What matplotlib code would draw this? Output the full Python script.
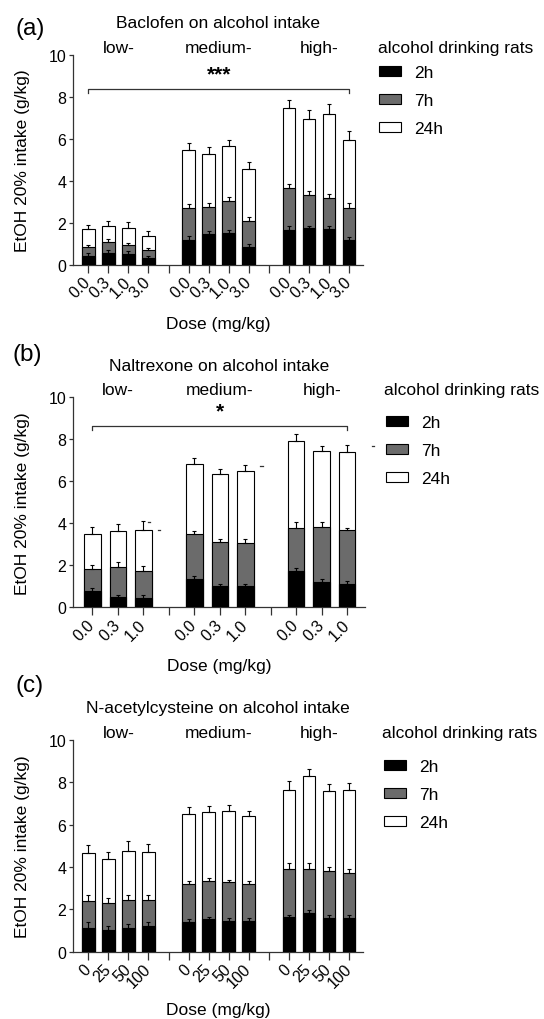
import numpy as np
import matplotlib.pyplot as plt
from matplotlib.patches import Patch
from matplotlib.transforms import blended_transform_factory

plt.rcParams['font.family'] = ['Liberation Sans', 'DejaVu Sans']

W, H = 544, 1020

groups = ["low-", "medium-", "high-"]
legend_labels = ["2h", "7h", "24h"]
colors = ["#000000", "#6b6b6b", "#ffffff"]

# (a) baclofen, cumulative intake (g/kg) with SEM
baclofen_doses = ["0.0", "0.3", "1.0", "3.0"]
baclofen_2h = [0.41, 0.57, 0.53, 0.35, 1.21, 1.47, 1.53, 0.88, 1.68, 1.74, 1.73, 1.20]
baclofen_2h_err = [0.14, 0.13, 0.13, 0.10, 0.15, 0.14, 0.15, 0.14, 0.16, 0.14, 0.15, 0.14]
baclofen_7h = [0.84, 1.09, 0.94, 0.70, 2.72, 2.75, 3.07, 2.11, 3.67, 3.35, 3.21, 2.73]
baclofen_7h_err = [0.12, 0.15, 0.12, 0.10, 0.20, 0.19, 0.19, 0.19, 0.19, 0.16, 0.18, 0.21]
baclofen_24h = [1.72, 1.88, 1.77, 1.37, 5.46, 5.30, 5.69, 4.58, 7.46, 6.95, 7.20, 5.97]
baclofen_24h_err = [0.19, 0.23, 0.26, 0.26, 0.34, 0.32, 0.27, 0.31, 0.40, 0.45, 0.45, 0.40]

# (b) naltrexone
naltrexone_doses = ["0.0", "0.3", "1.0"]
naltrexone_2h = [0.76, 0.47, 0.46, 1.36, 1.00, 1.00, 1.72, 1.20, 1.11]
naltrexone_2h_err = [0.17, 0.13, 0.14, 0.11, 0.11, 0.11, 0.16, 0.13, 0.12]
naltrexone_7h = [1.82, 1.90, 1.72, 3.50, 3.09, 3.05, 3.78, 3.84, 3.66]
naltrexone_7h_err = [0.21, 0.28, 0.26, 0.14, 0.14, 0.18, 0.27, 0.21, 0.12]
naltrexone_24h = [3.47, 3.64, 3.70, 6.84, 6.33, 6.49, 7.93, 7.45, 7.41]
naltrexone_24h_err = [0.36, 0.32, 0.40, 0.25, 0.27, 0.30, 0.31, 0.21, 0.34]

# (c) N-acetylcysteine
nac_doses = ["0", "25", "50", "100"]
nac_2h = [1.14, 1.03, 1.14, 1.20, 1.42, 1.53, 1.47, 1.47, 1.65, 1.84, 1.61, 1.61]
nac_2h_err = [0.24, 0.17, 0.17, 0.18, 0.13, 0.13, 0.13, 0.13, 0.10, 0.14, 0.13, 0.13]
nac_7h = [2.41, 2.28, 2.42, 2.45, 3.18, 3.35, 3.28, 3.18, 3.91, 3.89, 3.80, 3.72]
nac_7h_err = [0.25, 0.24, 0.25, 0.22, 0.16, 0.13, 0.12, 0.14, 0.27, 0.29, 0.19, 0.20]
nac_24h = [4.65, 4.38, 4.78, 4.70, 6.52, 6.58, 6.65, 6.42, 7.64, 8.31, 7.59, 7.64]
nac_24h_err = [0.37, 0.34, 0.44, 0.41, 0.33, 0.29, 0.26, 0.24, 0.41, 0.33, 0.31, 0.32]

# significance brackets: (bracket height, stars)
baclofen_sig = (8.38, "***")
naltrexone_sig = (8.65, "*")
# small stray dashes in panel (b): (x, y)
naltrexone_dashes = [(2.22, 4.07), (2.62, 3.67), (6.64, 6.73), (11.01, 7.68)]

FS = 12.5


def fx(x):
    return x / W


def fy(y):
    return 1 - y / H


def panel(rect_px, doses, series, errs, title, tag, tag_xy, leg_x, leg_y,
          bar_w, sig=None):
    left, right, top, bottom = rect_px
    ax = fig.add_axes([fx(left), fy(bottom), (right - left) / W, (bottom - top) / H])
    n = len(doses)
    step = n + 1
    xs = np.array([g * step + i for g in range(3) for i in range(n)])
    gaps = [g * step + n for g in range(2)]

    # cumulative bars overlaid: 24h, 7h, 2h
    for k in [2, 1, 0]:
        ax.bar(xs, series[k], width=bar_w, color=colors[k], edgecolor="black",
               linewidth=0.8, zorder=2 + (2 - k))
        ax.errorbar(xs, series[k], yerr=[np.zeros(len(xs)), errs[k]], fmt="none",
                    ecolor="black", elinewidth=0.8, capsize=1.4, capthick=0.8,
                    zorder=2.5 + (2 - k))

    ax.set_ylim(0, 10)
    ax.set_xlim(-0.75, xs[-1] + 0.7)
    ax.set_yticks([0, 2, 4, 6, 8, 10])
    ticks = list(xs) + gaps
    ax.set_xticks(ticks)
    ax.set_xticklabels(list(doses) * 3 + [""] * len(gaps), rotation=45,
                       ha="right", va="center", rotation_mode="anchor")
    for sp in ["top", "right"]:
        ax.spines[sp].set_visible(False)
    for sp in ["left", "bottom"]:
        ax.spines[sp].set_color("#333333")
        ax.spines[sp].set_linewidth(0.9)
    ax.tick_params(axis="y", length=3, width=0.9, color="#333333", labelsize=11.5, pad=2)
    ax.tick_params(axis="x", length=5.5, width=0.9, color="#333333", labelsize=11.5, pad=5)

    if sig is not None:
        h, stars = sig
        ax.plot([xs[0], xs[0], xs[-1], xs[-1]], [h - 0.2, h, h, h - 0.2],
                color="#333333", lw=0.9, clip_on=False)
        ax.text((xs[0] + xs[-1]) / 2, h + 0.25, stars, ha="center", va="bottom",
                fontsize=15, fontweight="bold")

    trans = blended_transform_factory(ax.transData, fig.transFigure)
    for g, name in enumerate(groups):
        cx = g * step + (n - 1) / 2
        ax.text(cx, fy(top - 3), name, transform=trans, ha="center",
                va="baseline", fontsize=FS)

    cx_axes = (left + right) / 2
    fig.text(fx(cx_axes), fy(top - 27.5), title, ha="center", va="baseline", fontsize=FS)
    fig.text(fx(tag_xy[0]), fy(tag_xy[1]), tag, ha="center", va="center", fontsize=17.5)
    fig.text(fx(23), fy((top + bottom) / 2), "EtOH 20% intake (g/kg)", rotation=90,
             ha="center", va="center", fontsize=FS)
    fig.text(fx(cx_axes), fy(bottom + 58), "Dose (mg/kg)", ha="center", va="center",
             fontsize=FS)

    fig.text(fx(leg_x - 1.5), fy(top - 3), "alcohol drinking rats", ha="left",
             va="baseline", fontsize=FS)
    handles = [Patch(facecolor=c, edgecolor="black", linewidth=0.8) for c in colors]
    ax.legend(handles, legend_labels, loc="upper left",
              bbox_to_anchor=(fx(leg_x), fy(leg_y - 5)), bbox_transform=fig.transFigure,
              frameon=False, fontsize=FS, handlelength=1.25, handleheight=0.5,
              handletextpad=0.8, labelspacing=0.75, borderpad=0, borderaxespad=0)
    return ax


fig = plt.figure(figsize=(W / 100, H / 100), dpi=100)

panel((73.3, 363, 56, 266), baclofen_doses,
      [baclofen_2h, baclofen_7h, baclofen_24h],
      [baclofen_2h_err, baclofen_7h_err, baclofen_24h_err],
      "Baclofen on alcohol intake", "(a)", (30, 29), 379, 71, 0.63, baclofen_sig)

axb = panel((73.3, 365, 398.3, 608.3), naltrexone_doses,
            [naltrexone_2h, naltrexone_7h, naltrexone_24h],
            [naltrexone_2h_err, naltrexone_7h_err, naltrexone_24h_err],
            "Naltrexone on alcohol intake", "(b)", (27, 355), 386, 421, 0.65,
            naltrexone_sig)
for x, y in naltrexone_dashes:
    axb.plot([x - 0.05, x + 0.05], [y, y], color="#333333", lw=0.9, clip_on=False)

panel((73.3, 363, 741, 952.7), nac_doses,
      [nac_2h, nac_7h, nac_24h],
      [nac_2h_err, nac_7h_err, nac_24h_err],
      "N-acetylcysteine on alcohol intake", "(c)", (30, 686), 384, 765, 0.63)

fig.savefig("out.png", dpi=100)
